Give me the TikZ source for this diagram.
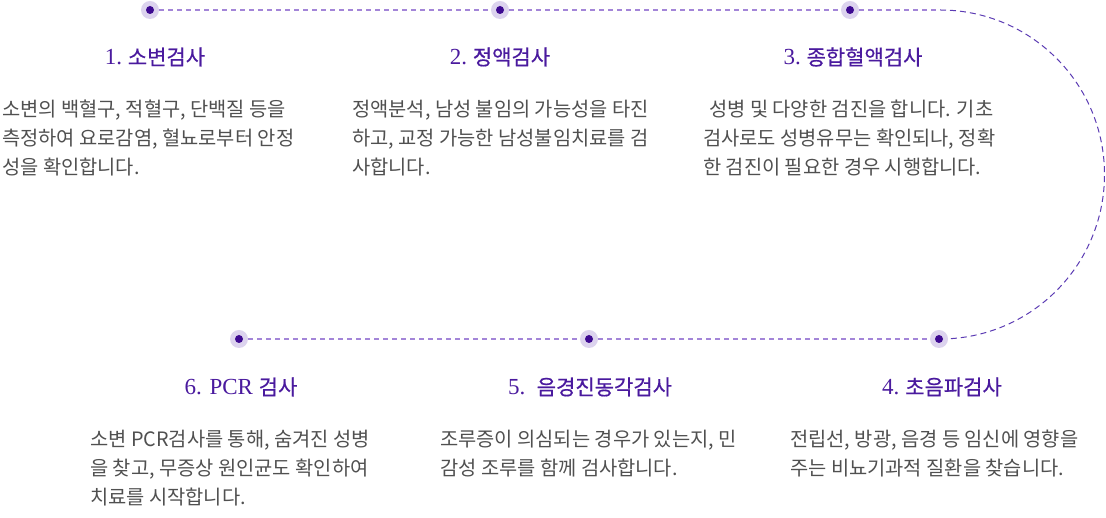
\documentclass[tikz,border=0pt]{standalone}
\usepackage{fontspec}
\newfontfamily\krfont{Noto Sans CJK KR}
\newfontfamily\krtitlefont[FakeBold=0.6]{Noto Sans CJK KR}
\newfontfamily\numfont{Liberation Serif}
\definecolor{dotcol}{HTML}{3D0A91}
\definecolor{halocol}{HTML}{DCD3EE}
\definecolor{dashcol}{HTML}{A385D8}
\definecolor{curvecol}{HTML}{5B3BB3}
\definecolor{titlecol}{HTML}{4A1A9E}
\definecolor{bodycol}{HTML}{505050}
\newcommand\steptitle[2]{{\numfont\fontsize{23}{26}\selectfont #1\ }{\krtitlefont\fontsize{21}{26}\selectfont #2}}

\begin{document}
\begin{tikzpicture}[x=1pt,y=1pt]
      \useasboundingbox (0,0) rectangle (1106,518);

      \begin{scope}[every node/.style={circle, fill=halocol, minimum size=18pt, inner sep=0pt,
          path picture={\fill[dotcol] (path picture bounding box.center) circle (4pt);}}]
        \node (1) at (150,508) {};
        \node (2) at (500,508) {};
        \node (3) at (850,508) {};
        \node (4) at (939,179) {};
        \node (5) at (589,179) {};
        \node (6) at (239,179) {};
      \end{scope}
      \coordinate (c1) at (940,508);

      \begin{scope}[every edge/.style={draw=dashcol, line width=1.5pt, dash pattern=on 5pt off 4pt}]
        \path (1) edge (2);
        \path (2) edge (3);
        \path (3) edge (c1);
        \path (6) edge (5);
        \path (5) edge (4);
      \end{scope}
      \draw[curvecol, line width=1pt, dash pattern=on 6pt off 4pt]
        (c1) arc[start angle=90, end angle=-87, radius=164.5];

      \begin{scope}[every node/.style={text=titlecol}]
        \node (t1) at (155,461) {\steptitle{1.}{소변검사}};
        \node (t2) at (500,461) {\steptitle{2.}{정액검사}};
        \node (t3) at (853,461) {\steptitle{3.}{종합혈액검사}};
        \node (t4) at (942,131) {\steptitle{4.}{초음파검사}};
        \node (t5) at (590,131) {\steptitle{5.\ }{음경진동각검사}};
        \node (t6) at (241,131) {\steptitle{6. PCR}{검사}};
      \end{scope}

      \begin{scope}[every node/.style={anchor=north west, align=left, inner sep=0pt, text=bodycol,
          font=\krfont\fontsize{19.8}{29}\selectfont}]
        \node (b1) at (2,418)   {소변의 백혈구, 적혈구, 단백질 등을\\측정하여 요로감염, 혈뇨로부터 안정\\성을 확인합니다.};
        \node (b2) at (352,418) {정액분석, 남성 불임의 가능성을 타진\\하고, 교정 가능한 남성불임치료를 검\\사합니다.};
        \node (b3) at (703,418) {\hspace{6pt}성병 및 다양한 검진을 합니다. 기초\\검사로도 성병유무는 확인되나, 정확\\한 검진이 필요한 경우 시행합니다.};
        \node (b6) at (90,88)   {소변 PCR검사를 통해, 숨겨진 성병\\을 찾고, 무증상 원인균도 확인하여\\치료를 시작합니다.};
        \node (b5) at (440,88)  {조루증이 의심되는 경우가 있는지, 민\\감성 조루를 함께 검사합니다.};
        \node (b4) at (790,88)  {전립선, 방광, 음경 등 임신에 영향을\\주는 비뇨기과적 질환을 찾습니다.};
      \end{scope}

    \end{tikzpicture}
\end{document}
